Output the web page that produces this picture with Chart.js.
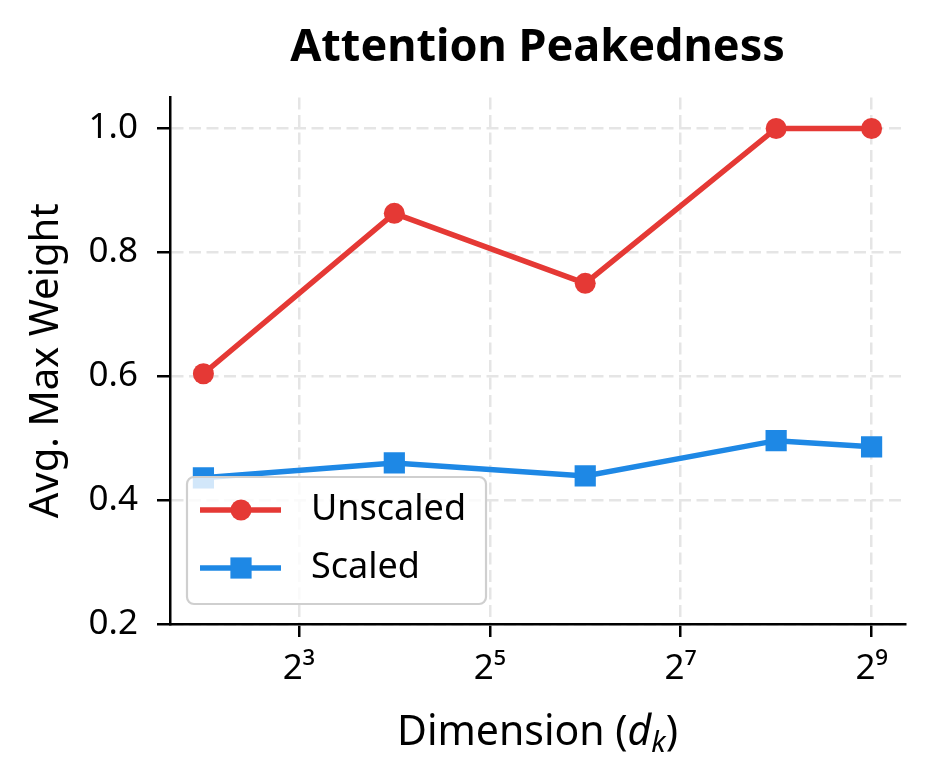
<!DOCTYPE html>
<html>
<head>
<meta charset="utf-8">
<script src="https://cdn.jsdelivr.net/npm/chart.js@4.4.1/dist/chart.umd.min.js"></script>
<style>html,body{margin:0;padding:0;background:#fff}#wrap{width:934px;height:784px}</style>
</head>
<body>
<div id="wrap"><canvas id="chart" width="934" height="784"></canvas></div>
<script>
// ---- data ----
const dims = [4, 16, 64, 256, 512];
const unscaled = [0.604, 0.863, 0.750, 1.000, 1.000];
const scaled = [0.436, 0.460, 0.439, 0.496, 0.486];
const xTickValues = [8, 32, 128, 512];
const yTickValues = [0.2, 0.4, 0.6, 0.8, 1.0];
const seriesNames = ['Unscaled', 'Scaled'];
const titleText = 'Attention Peakedness';
const yTitleText = 'Avg. Max Weight';

const RED = '#e53935', BLUE = '#1e88e5';
const GRID = '#e5e5e5';
const FONT = '"Noto Sans", "DejaVu Sans", sans-serif';
const SUP = {'0':'⁰','1':'¹','2':'²','3':'³','4':'⁴','5':'⁵','6':'⁶','7':'⁷','8':'⁸','9':'⁹'};
const pow2Label = v => '2' + String(Math.round(Math.log2(v))).split('').map(c => SUP[c]).join('');

const toPts = ys => dims.map((d, i) => ({x: d, y: ys[i]}));

const legendPlugin = {
  id: 'boxLegend',
  afterDatasetsDraw(chart) {
    const {ctx, chartArea: a} = chart;
    const ds = chart.data.datasets;
    ctx.save();
    ctx.font = '36px ' + FONT;
    const tw = Math.max(...ds.map(d => ctx.measureText(d.label).width));
    const x0 = a.left + 17, yb = a.bottom - 20, h = 127, y0 = yb - h;
    const w = 124 + tw + 20;
    ctx.beginPath();
    ctx.roundRect(x0, y0, w, h, 7);
    ctx.fillStyle = 'rgba(255,255,255,0.8)';
    ctx.fill();
    ctx.lineWidth = 2.2;
    ctx.strokeStyle = '#cfcfcf';
    ctx.stroke();
    ds.forEach((d, i) => {
      const cy = y0 + 33 + i * 58;
      ctx.beginPath();
      ctx.moveTo(x0 + 13, cy);
      ctx.lineTo(x0 + 94, cy);
      ctx.lineWidth = d.borderWidth;
      ctx.strokeStyle = d.borderColor;
      ctx.stroke();
      ctx.fillStyle = d.pointBackgroundColor;
      if (d.pointStyle === 'rect') {
        const s = d.pointRadius * Math.SQRT1_2;
        ctx.fillRect(x0 + 54 - s, cy - s, 2 * s, 2 * s);
      } else {
        ctx.beginPath();
        ctx.arc(x0 + 54, cy, d.pointRadius, 0, Math.PI * 2);
        ctx.fill();
      }
      ctx.fillStyle = '#000';
      ctx.textBaseline = 'middle';
      ctx.textAlign = 'left';
      ctx.fillText(d.label, x0 + 124, cy);
    });
    ctx.restore();
  }
};

const xTitlePlugin = {
  id: 'xTitle',
  afterDraw(chart) {
    const {ctx, chartArea: a} = chart;
    const size = 41;
    const parts = [
      {t: 'Dimension (', f: size + 'px ' + FONT, dy: 0},
      {t: 'd', f: 'italic ' + size + 'px ' + FONT, dy: 0},
      {t: 'k', f: 'italic ' + Math.round(size * 0.7) + 'px ' + FONT, dy: 7},
      {t: ')', f: size + 'px ' + FONT, dy: 0}
    ];
    ctx.save();
    ctx.fillStyle = '#000';
    ctx.textBaseline = 'alphabetic';
    ctx.textAlign = 'left';
    let total = 0;
    parts.forEach(p => { ctx.font = p.f; p.w = ctx.measureText(p.t).width; total += p.w; });
    let x = (a.left + a.right) / 2 - total / 2;
    const base = a.bottom + 121;
    parts.forEach(p => { ctx.font = p.f; ctx.fillText(p.t, x, base + p.dy); x += p.w; });
    ctx.restore();
  }
};

const gridOpts = {color: GRID, lineWidth: 2.5, tickColor: '#000', tickWidth: 2.5, tickLength: 13,
                  tickBorderDash: [], drawOnChartArea: true};
const borderOpts = {display: true, color: '#000', width: 2.5, dash: [12, 5.5]};

new Chart(document.getElementById('chart'), {
  type: 'line',
  data: {
    datasets: [
      {label: seriesNames[0], data: toPts(unscaled), borderColor: RED, backgroundColor: RED,
       pointBackgroundColor: RED, pointBorderColor: RED, pointBorderWidth: 0, pointStyle: 'circle',
       pointRadius: 10.5, borderWidth: 5.5, tension: 0, fill: false},
      {label: seriesNames[1], data: toPts(scaled), borderColor: BLUE, backgroundColor: BLUE,
       pointBackgroundColor: BLUE, pointBorderColor: BLUE, pointBorderWidth: 0, pointStyle: 'rect',
       pointRadius: 15, borderWidth: 5.5, tension: 0, fill: false}
    ]
  },
  options: {
    responsive: false,
    animation: false,
    devicePixelRatio: 1,
    layout: {padding: {left: 0, right: 29, top: 0, bottom: 0}},
    plugins: {
      legend: {display: false},
      tooltip: {enabled: false},
      title: {display: true, text: titleText, color: '#000', fullSize: false,
              font: {family: FONT, size: 45, weight: 'bold'}, padding: {top: 21, bottom: 22.5}}
    },
    scales: {
      x: {
        type: 'logarithmic', position: 'bottom',
        min: Math.pow(2, 1.65), max: Math.pow(2, 9.35),
        afterBuildTicks: s => { s.ticks = xTickValues.map(v => ({value: v})); },
        afterFit: s => { s.height = 160; },
        ticks: {callback: v => pow2Label(v), color: '#000', font: {family: FONT, size: 35}, padding: 11,
                maxRotation: 0, autoSkip: false},
        grid: gridOpts,
        border: borderOpts,
        title: {display: false}
      },
      y: {
        type: 'linear', position: 'left',
        min: 0.2, max: 1.05,
        afterBuildTicks: s => { s.ticks = yTickValues.map(v => ({value: v})); },
        afterFit: s => { s.width = 170; },
        ticks: {callback: v => Number(v).toFixed(1), color: '#000', font: {family: FONT, size: 35}, padding: 19},
        grid: gridOpts,
        border: borderOpts,
        title: {display: true, text: yTitleText, color: '#000', font: {family: FONT, size: 40},
                padding: {top: 23, bottom: 0}}
      }
    }
  },
  plugins: [legendPlugin, xTitlePlugin]
});
</script>
</body>
</html>
